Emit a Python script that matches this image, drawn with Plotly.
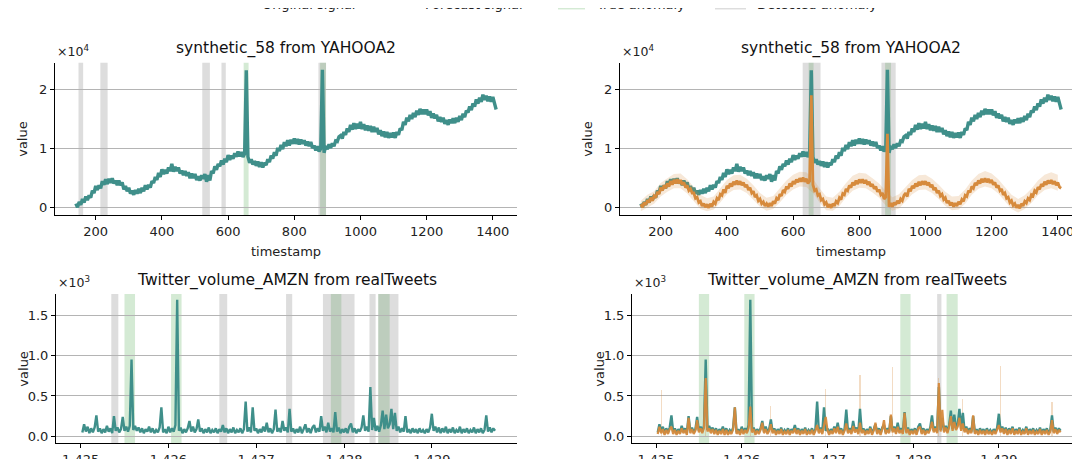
import numpy as np
import plotly.graph_objects as go

# ---- synthetic_58 (YAHOOA2), values in units of 1e4, one sample every 5 steps from t=140
syn_start = 140
syn_step = 5
syn_original = [
    0.07, 0.01, 0.10, 0.05, 0.15, 0.09, 0.19, 0.13, 0.21, 0.17,
    0.29, 0.25, 0.37, 0.30, 0.38, 0.33, 0.45, 0.39, 0.48, 0.40,
    0.49, 0.42, 0.50, 0.41, 0.46, 0.38, 0.46, 0.38, 0.43, 0.31,
    0.37, 0.28, 0.34, 0.24, 0.29, 0.22, 0.30, 0.24, 0.32, 0.25,
    0.34, 0.28, 0.38, 0.31, 0.39, 0.34, 0.45, 0.42, 0.52, 0.47,
    0.59, 0.52, 0.65, 0.57, 0.64, 0.58, 0.68, 0.62, 0.74, 0.61,
    0.69, 0.62, 0.68, 0.58, 0.63, 0.55, 0.62, 0.54, 0.60, 0.50,
    0.58, 0.50, 0.57, 0.47, 0.53, 0.46, 0.55, 0.49, 0.57, 0.44,
    0.55, 0.46, 0.62, 0.58, 0.70, 0.64, 0.74, 0.70, 0.80, 0.73,
    0.83, 0.77, 0.89, 0.81, 0.88, 0.83, 0.92, 0.86, 0.95, 0.87,
    0.94, 0.86, 0.91, 2.32, 0.86, 0.76, 0.82, 0.73, 0.79, 0.71,
    0.78, 0.69, 0.77, 0.68, 0.76, 0.72, 0.82, 0.77, 0.88, 0.83,
    0.94, 0.88, 1.01, 0.96, 1.06, 0.99, 1.11, 1.04, 1.14, 1.05,
    1.15, 1.08, 1.17, 1.08, 1.16, 1.07, 1.15, 1.08, 1.14, 1.05,
    1.12, 1.04, 1.11, 1.01, 1.05, 0.97, 1.04, 0.95, 1.00, 2.33,
    0.93, 1.04, 0.99, 1.07, 1.01, 1.09, 1.04, 1.13, 1.12, 1.20,
    1.22, 1.17, 1.28, 1.23, 1.34, 1.28, 1.40, 1.32, 1.43, 1.33,
    1.42, 1.34, 1.45, 1.33, 1.41, 1.31, 1.39, 1.30, 1.38, 1.28,
    1.37, 1.28, 1.35, 1.24, 1.31, 1.21, 1.29, 1.19, 1.28, 1.18,
    1.26, 1.19, 1.27, 1.18, 1.28, 1.23, 1.34, 1.31, 1.45, 1.40,
    1.52, 1.46, 1.57, 1.50, 1.60, 1.53, 1.64, 1.57, 1.67, 1.58,
    1.66, 1.58, 1.66, 1.56, 1.63, 1.52, 1.59, 1.51, 1.57, 1.46,
    1.53, 1.45, 1.52, 1.42, 1.48, 1.40, 1.49, 1.43, 1.51, 1.43,
    1.52, 1.45, 1.55, 1.48, 1.59, 1.53, 1.64, 1.61, 1.71, 1.65,
    1.76, 1.71, 1.83, 1.76, 1.86, 1.79, 1.91, 1.82, 1.89, 1.80,
    1.88, 1.79, 1.87, 1.76, 1.66,
]
syn_forecast = [
    0.06, 0.01, 0.09, 0.05, 0.13, 0.09, 0.17, 0.12, 0.20, 0.17,
    0.27, 0.23, 0.34, 0.29, 0.38, 0.33, 0.41, 0.36, 0.45, 0.39,
    0.47, 0.41, 0.48, 0.41, 0.47, 0.39, 0.43, 0.34, 0.38, 0.29,
    0.32, 0.25, 0.25, 0.16, 0.18, 0.09, 0.11, 0.03, 0.07, 0.01,
    0.06, 0.00, 0.07, 0.02, 0.10, 0.07, 0.16, 0.13, 0.23, 0.21,
    0.31, 0.25, 0.37, 0.33, 0.41, 0.36, 0.44, 0.39, 0.46, 0.39,
    0.45, 0.38, 0.43, 0.35, 0.39, 0.30, 0.34, 0.25, 0.28, 0.18,
    0.21, 0.12, 0.15, 0.07, 0.10, 0.03, 0.07, 0.02, 0.08, 0.03,
    0.11, 0.07, 0.16, 0.13, 0.23, 0.20, 0.30, 0.27, 0.36, 0.32,
    0.41, 0.36, 0.45, 0.40, 0.48, 0.43, 0.50, 0.44, 0.51, 0.44,
    0.49, 0.41, 0.45, 1.90, 0.39, 0.29, 0.31, 0.21, 0.23, 0.13,
    0.15, 0.06, 0.09, 0.01, 0.06, 0.00, 0.07, 0.03, 0.11, 0.08,
    0.17, 0.14, 0.24, 0.22, 0.32, 0.29, 0.38, 0.34, 0.43, 0.38,
    0.46, 0.40, 0.48, 0.42, 0.48, 0.41, 0.47, 0.39, 0.44, 0.36,
    0.40, 0.32, 0.36, 0.27, 0.31, 0.22, 0.25, 0.15, 0.18, 1.25,
    0.02, 0.08, 0.02, 0.09, 0.05, 0.12, 0.07, 0.15, 0.12, 0.21,
    0.25, 0.19, 0.32, 0.28, 0.37, 0.33, 0.41, 0.36, 0.44, 0.38,
    0.45, 0.39, 0.45, 0.38, 0.43, 0.35, 0.39, 0.30, 0.34, 0.25,
    0.29, 0.20, 0.23, 0.14, 0.17, 0.08, 0.12, 0.04, 0.09, 0.02,
    0.08, 0.03, 0.10, 0.06, 0.14, 0.11, 0.21, 0.19, 0.29, 0.26,
    0.36, 0.33, 0.42, 0.38, 0.46, 0.41, 0.49, 0.43, 0.50, 0.43,
    0.49, 0.42, 0.47, 0.39, 0.43, 0.34, 0.38, 0.29, 0.32, 0.22,
    0.25, 0.16, 0.18, 0.09, 0.12, 0.04, 0.07, 0.00, 0.05, -0.01,
    0.07, 0.03, 0.11, 0.08, 0.16, 0.13, 0.22, 0.20, 0.29, 0.26,
    0.35, 0.31, 0.40, 0.36, 0.44, 0.39, 0.46, 0.41, 0.47, 0.40,
    0.45, 0.38, 0.43, 0.35, 0.33,
]
# forecast spread, one sample every 20 steps from t=140
syn_band_step = 20
syn_forecast_hi = [
    0.12, 0.22, 0.28, 0.42, 0.50, 0.57, 0.58, 0.48, 0.35, 0.22,
    0.16, 0.19, 0.33, 0.47, 0.55, 0.56, 0.49, 0.38, 0.25, 0.17,
    0.20, 0.33, 0.46, 0.56, 0.61, 0.60, 0.49, 0.33, 0.19, 0.17,
    0.27, 0.42, 0.54, 0.59, 0.58, 0.50, 0.41, 0.28, 0.18, 0.23,
    0.35, 0.47, 0.55, 0.56, 0.49, 0.39, 0.27, 0.19, 0.20, 0.31,
    0.46, 0.57, 0.62, 0.58, 0.48, 0.35, 0.22, 0.15, 0.21, 0.32,
    0.46, 0.56, 0.60, 0.56,
]
syn_forecast_lo = [
    -0.06, 0.00, 0.07, 0.19, 0.27, 0.33, 0.33, 0.24, 0.11, -0.02,
    -0.06, -0.03, 0.09, 0.23, 0.30, 0.31, 0.25, 0.14, 0.02, -0.05,
    -0.02, 0.09, 0.22, 0.31, 0.36, 0.35, 0.25, 0.09, -0.04, -0.05,
    0.03, 0.18, 0.29, 0.34, 0.33, 0.26, 0.17, 0.04, -0.05, -0.01,
    0.11, 0.23, 0.30, 0.31, 0.25, 0.15, 0.03, -0.04, -0.03, 0.07,
    0.22, 0.32, 0.36, 0.33, 0.24, 0.11, -0.02, -0.08, -0.02, 0.08,
    0.21, 0.30, 0.33, 0.29,
]
syn_true_start = [647, 878]
syn_true_end = [662, 896]
syn_det_left_start = [148, 214, 522, 580, 873]
syn_det_left_end = [162, 236, 545, 593, 896]
syn_det_right_start = [629, 867]
syn_det_right_end = [683, 910]

# ---- Twitter_volume_AMZN (realTweets), values in units of 1e3, time in units of 1e9 s
tw_start = 1.42502
tw_step = 0.00002
tw_original = [
    0.05, 0.15, 0.06, 0.12, 0.04, 0.10, 0.05, 0.11, 0.26, 0.06,
    0.10, 0.04, 0.09, 0.05, 0.13, 0.06, 0.10, 0.04, 0.25, 0.07,
    0.11, 0.05, 0.09, 0.24, 0.07, 0.12, 0.06, 0.13, 0.95, 0.08,
    0.13, 0.07, 0.11, 0.05, 0.10, 0.04, 0.09, 0.06, 0.12, 0.05,
    0.10, 0.04, 0.08, 0.05, 0.11, 0.36, 0.05, 0.09, 0.04, 0.12,
    0.05, 0.10, 0.06, 0.14, 1.69, 0.07, 0.11, 0.04, 0.09, 0.05,
    0.10, 0.19, 0.06, 0.12, 0.05, 0.09, 0.21, 0.06, 0.10, 0.04,
    0.09, 0.05, 0.11, 0.04, 0.08, 0.05, 0.10, 0.04, 0.09, 0.06,
    0.14, 0.05, 0.10, 0.04, 0.09, 0.05, 0.11, 0.04, 0.08, 0.05,
    0.10, 0.04, 0.09, 0.43, 0.06, 0.11, 0.05, 0.36, 0.07, 0.10,
    0.04, 0.09, 0.05, 0.12, 0.06, 0.17, 0.05, 0.10, 0.04, 0.09,
    0.33, 0.06, 0.10, 0.05, 0.19, 0.07, 0.11, 0.05, 0.34, 0.06,
    0.10, 0.04, 0.09, 0.05, 0.12, 0.04, 0.09, 0.15, 0.05, 0.10,
    0.04, 0.11, 0.14, 0.05, 0.10, 0.06, 0.25, 0.07, 0.12, 0.05,
    0.17, 0.06, 0.10, 0.05, 0.30, 0.06, 0.11, 0.04, 0.09, 0.05,
    0.10, 0.04, 0.12, 0.16, 0.05, 0.10, 0.04, 0.09, 0.06, 0.11,
    0.26, 0.07, 0.12, 0.06, 0.61, 0.08, 0.23, 0.07, 0.13, 0.06,
    0.14, 0.32, 0.09, 0.27, 0.10, 0.15, 0.34, 0.09, 0.29, 0.07,
    0.12, 0.05, 0.10, 0.06, 0.25, 0.05, 0.09, 0.04, 0.10, 0.05,
    0.09, 0.04, 0.10, 0.05, 0.08, 0.04, 0.09, 0.05, 0.11, 0.28,
    0.07, 0.12, 0.05, 0.11, 0.04, 0.10, 0.05, 0.12, 0.04, 0.09,
    0.05, 0.11, 0.04, 0.08, 0.05, 0.12, 0.04, 0.09, 0.05, 0.10,
    0.04, 0.08, 0.05, 0.11, 0.04, 0.09, 0.05, 0.10, 0.04, 0.08,
    0.26, 0.06, 0.11, 0.05, 0.10, 0.07,
]
tw_forecast = [
    0.03, 0.12, 0.04, 0.09, 0.02, 0.08, 0.03, 0.09, 0.12, 0.03,
    0.08, 0.02, 0.07, 0.03, 0.10, 0.04, 0.08, 0.02, 0.23, 0.04,
    0.09, 0.03, 0.07, 0.20, 0.05, 0.10, 0.04, 0.11, 0.72, 0.06,
    0.10, 0.04, 0.09, 0.03, 0.08, 0.02, 0.07, 0.03, 0.09, 0.02,
    0.08, 0.02, 0.06, 0.03, 0.09, 0.36, 0.03, 0.07, 0.02, 0.09,
    0.03, 0.08, 0.04, 0.10, 0.37, 0.05, 0.09, 0.02, 0.07, 0.03,
    0.08, 0.17, 0.04, 0.09, 0.03, 0.07, 0.15, 0.04, 0.08, 0.02,
    0.07, 0.03, 0.09, 0.02, 0.06, 0.03, 0.08, 0.02, 0.07, 0.04,
    0.10, 0.03, 0.08, 0.02, 0.07, 0.03, 0.09, 0.02, 0.06, 0.03,
    0.08, 0.02, 0.07, 0.14, 0.04, 0.09, 0.03, 0.12, 0.24, 0.08,
    0.02, 0.07, 0.03, 0.10, 0.04, 0.12, 0.03, 0.08, 0.02, 0.07,
    0.16, 0.04, 0.08, 0.03, 0.13, 0.05, 0.09, 0.03, 0.17, 0.04,
    0.08, 0.02, 0.07, 0.03, 0.10, 0.02, 0.07, 0.17, 0.03, 0.08,
    0.02, 0.09, 0.20, 0.03, 0.08, 0.04, 0.27, 0.05, 0.10, 0.03,
    0.12, 0.04, 0.08, 0.03, 0.29, 0.04, 0.09, 0.02, 0.07, 0.03,
    0.08, 0.02, 0.10, 0.12, 0.03, 0.08, 0.02, 0.07, 0.04, 0.09,
    0.18, 0.05, 0.10, 0.04, 0.66, 0.06, 0.33, 0.05, 0.11, 0.04,
    0.12, 0.25, 0.07, 0.18, 0.08, 0.12, 0.23, 0.07, 0.16, 0.05,
    0.10, 0.03, 0.08, 0.04, 0.26, 0.03, 0.07, 0.02, 0.08, 0.03,
    0.07, 0.02, 0.08, 0.03, 0.06, 0.02, 0.07, 0.03, 0.09, 0.14,
    0.05, 0.10, 0.03, 0.09, 0.02, 0.08, 0.03, 0.10, 0.02, 0.07,
    0.03, 0.09, 0.02, 0.06, 0.03, 0.10, 0.02, 0.07, 0.03, 0.08,
    0.02, 0.06, 0.03, 0.09, 0.02, 0.07, 0.03, 0.08, 0.02, 0.06,
    0.20, 0.04, 0.09, 0.03, 0.08, 0.05,
]
# faint upper-spread spikes of the forecast
tw_spread_t = [1.42506, 1.42558, 1.42610, 1.42634, 1.42698, 1.42738,
               1.42776, 1.42830, 1.42858, 1.42902, 1.42962]
tw_spread_v = [0.57, 0.72, 0.40, 0.38, 0.59, 0.76, 0.86, 0.72, 0.46, 0.87, 0.43]
tw_true_start = [1.42550, 1.42603, 1.42785, 1.42839]
tw_true_end = [1.42562, 1.42615, 1.42797, 1.42852]
tw_det_left_start = [1.42535, 1.42658, 1.42734, 1.42776, 1.42829, 1.42839]
tw_det_left_end = [1.42543, 1.42667, 1.42741, 1.42812, 1.42836, 1.42862]
tw_det_right_start = [1.42828]
tw_det_right_end = [1.42833]

legend_labels = ['Original signal', 'Forecast signal', 'True anomaly', 'Detected anomaly']

TEAL = '#3f8f8a'
ORANGE = '#d68a3c'
GREEN_BAND = 'rgba(0,128,0,0.17)'
GRAY_BAND = 'rgba(128,128,128,0.27)'
FONT = 'DejaVu Sans'
W, H = 1080, 459

# panel boxes in pixels: (left, right, top, bottom)
PANELS = [
    (47, 509, 56, 212),
    (612, 1074, 56, 212),
    (48, 509, 293, 446),
    (624, 1074, 293, 446),
]
# legend row (sits mostly above the page edge, as in the source figure)
LEG_Y = -4
LEG_ITEMS = [  # handle x0, handle x1, text left
    (213, 241, 252),
    (372, 405, 415),
    (550, 577, 586),
    (707, 738, 747),
]


def px_x(v):
    return v / W


def px_y(v):
    return 1 - v / H


def main():
    syn_t = syn_start + syn_step * np.arange(len(syn_original))
    syn_band_t = syn_start + syn_band_step * np.arange(len(syn_forecast_hi))
    tw_t = tw_start + tw_step * np.arange(len(tw_original))

    fig = go.Figure()

    # top left: original only
    fig.add_trace(go.Scatter(x=syn_t, y=syn_original, mode='lines',
                             line=dict(color=TEAL, width=3.4),
                             xaxis='x', yaxis='y'))
    # top right: original + forecast with spread
    fig.add_trace(go.Scatter(x=syn_t, y=syn_original, mode='lines',
                             line=dict(color=TEAL, width=3.4),
                             xaxis='x2', yaxis='y2'))
    fig.add_trace(go.Scatter(x=syn_band_t, y=syn_forecast_lo, mode='lines',
                             line=dict(width=0),
                             xaxis='x2', yaxis='y2', hoverinfo='skip'))
    fig.add_trace(go.Scatter(x=syn_band_t, y=syn_forecast_hi, mode='lines',
                             line=dict(width=0), fill='tonexty',
                             fillcolor='rgba(214,138,60,0.2)',
                             xaxis='x2', yaxis='y2', hoverinfo='skip'))
    fig.add_trace(go.Scatter(x=syn_t, y=syn_forecast, mode='lines',
                             line=dict(color=ORANGE, width=2.8),
                             xaxis='x2', yaxis='y2'))
    # bottom left
    fig.add_trace(go.Scatter(x=tw_t, y=tw_original, mode='lines',
                             line=dict(color=TEAL, width=2.4),
                             xaxis='x3', yaxis='y3'))
    # bottom right
    fig.add_trace(go.Scatter(x=tw_t, y=tw_original, mode='lines',
                             line=dict(color=TEAL, width=2.4),
                             xaxis='x4', yaxis='y4'))
    fig.add_trace(go.Bar(x=tw_spread_t, y=tw_spread_v, width=0.000012,
                         marker=dict(color='rgba(214,138,60,0.3)', line=dict(width=0)),
                         xaxis='x4', yaxis='y4'))
    fig.add_trace(go.Scatter(x=tw_t, y=tw_forecast, mode='lines',
                             line=dict(color=ORANGE, width=2.2), opacity=0.95,
                             xaxis='x4', yaxis='y4'))

    # anomaly bands
    band_sets = [
        ('x', 'y', syn_det_left_start, syn_det_left_end, syn_true_start, syn_true_end),
        ('x2', 'y2', syn_det_right_start, syn_det_right_end, syn_true_start, syn_true_end),
        ('x3', 'y3', tw_det_left_start, tw_det_left_end, tw_true_start, tw_true_end),
        ('x4', 'y4', tw_det_right_start, tw_det_right_end, tw_true_start, tw_true_end),
    ]
    shapes = []
    for xr, yr, ds, de, ts, te in band_sets:
        for a, b in zip(ts, te):
            shapes.append(dict(type='rect', xref=xr, yref=yr + ' domain',
                               x0=a, x1=b, y0=0, y1=1, fillcolor=GREEN_BAND,
                               line=dict(width=0), layer='below'))
        for a, b in zip(ds, de):
            shapes.append(dict(type='rect', xref=xr, yref=yr + ' domain',
                               x0=a, x1=b, y0=0, y1=1, fillcolor=GRAY_BAND,
                               line=dict(width=0), layer='below'))

    # legend handles, drawn by hand so the row can hang off the top edge
    annotations = []
    handle_styles = [('line', TEAL), ('line', ORANGE), ('rect', GREEN_BAND), ('rect', GRAY_BAND)]
    for (hx0, hx1, tx), (kind, color), label in zip(LEG_ITEMS, handle_styles, legend_labels):
        if kind == 'line':
            shapes.append(dict(type='line', xref='paper', yref='paper',
                               x0=px_x(hx0), x1=px_x(hx1), y0=px_y(LEG_Y), y1=px_y(LEG_Y),
                               line=dict(color=color, width=2)))
        else:
            shapes.append(dict(type='rect', xref='paper', yref='paper',
                               x0=px_x(hx0), x1=px_x(hx1),
                               y0=px_y(LEG_Y + 5.5), y1=px_y(LEG_Y - 4.5),
                               fillcolor=color, line=dict(width=0)))
        annotations.append(dict(text=label, x=px_x(tx), y=px_y(LEG_Y),
                                xref='paper', yref='paper', showarrow=False,
                                xanchor='left', yanchor='middle',
                                font=dict(size=13, color='#222')))

    common_x = dict(showline=True, linecolor='black', linewidth=1, ticks='outside',
                    ticklen=4, tickcolor='black', showgrid=False, zeroline=False,
                    tickfont=dict(size=13, color='#222'))
    common_y = dict(showline=True, linecolor='black', linewidth=1, ticks='outside',
                    ticklen=4, tickcolor='black', showgrid=True, gridcolor='#b4b4b4',
                    gridwidth=1, zeroline=False, tickfont=dict(size=13, color='#222'))

    syn_x = dict(common_x, range=[77, 1473], tickvals=[200, 400, 600, 800, 1000, 1200, 1400])
    syn_y = dict(common_y, range=[-0.12, 2.45], tickvals=[0, 1, 2])
    tw_x = dict(common_x, range=[1.42472, 1.42997],
                tickvals=[1.425, 1.426, 1.427, 1.428, 1.429], tickformat='.3f')
    tw_y = dict(common_y, range=[-0.085, 1.76], tickvals=[0, 0.5, 1.0, 1.5],
                tickformat='.1f')

    layout_axes = {}
    specs = [(syn_x, syn_y), (syn_x, syn_y), (tw_x, tw_y), (tw_x, tw_y)]
    for i, (p, (ax, ay)) in enumerate(zip(PANELS, specs)):
        sfx = '' if i == 0 else str(i + 1)
        layout_axes['xaxis' + sfx] = dict(ax, domain=[px_x(p[0]), px_x(p[1])],
                                          anchor='y' + sfx)
        layout_axes['yaxis' + sfx] = dict(ay, domain=[px_y(p[3]), px_y(p[2])],
                                          anchor='x' + sfx)

    titles = ['synthetic_58 from YAHOOA2', 'synthetic_58 from YAHOOA2',
              'Twitter_volume_AMZN from realTweets', 'Twitter_volume_AMZN from realTweets']
    offsets = ['\u00d710<sup>4</sup>', '\u00d710<sup>4</sup>',
               '\u00d710<sup>3</sup>', '\u00d710<sup>3</sup>']
    for i, p in enumerate(PANELS):
        cx = px_x((p[0] + p[1]) / 2)
        annotations.append(dict(text=titles[i], x=cx, y=px_y(p[2] - 14),
                                xref='paper', yref='paper', showarrow=False,
                                xanchor='center', yanchor='middle',
                                font=dict(size=15.5, color='#111')))
        annotations.append(dict(text=offsets[i], x=px_x(p[0]), y=px_y(p[2] - 2),
                                xref='paper', yref='paper', showarrow=False,
                                xanchor='left', yanchor='bottom',
                                font=dict(size=12.5, color='#222')))
        annotations.append(dict(text='value', x=px_x(p[0] - 32),
                                y=px_y((p[2] + p[3]) / 2), textangle=-90,
                                xref='paper', yref='paper', showarrow=False,
                                xanchor='center', yanchor='middle',
                                font=dict(size=13, color='#222')))
        if i < 2:
            annotations.append(dict(text='timestamp', x=cx, y=px_y(p[3] + 37),
                                    xref='paper', yref='paper', showarrow=False,
                                    xanchor='center', yanchor='middle',
                                    font=dict(size=13, color='#222')))

    fig.update_layout(
        width=W, height=H,
        margin=dict(l=0, r=0, t=0, b=0),
        paper_bgcolor='white', plot_bgcolor='white',
        font=dict(family=FONT, color='#222'),
        showlegend=False,
        shapes=shapes,
        annotations=annotations,
        bargap=0,
        **layout_axes,
    )
    fig.write_html("out.html")


if __name__ == "__main__":
    main()
